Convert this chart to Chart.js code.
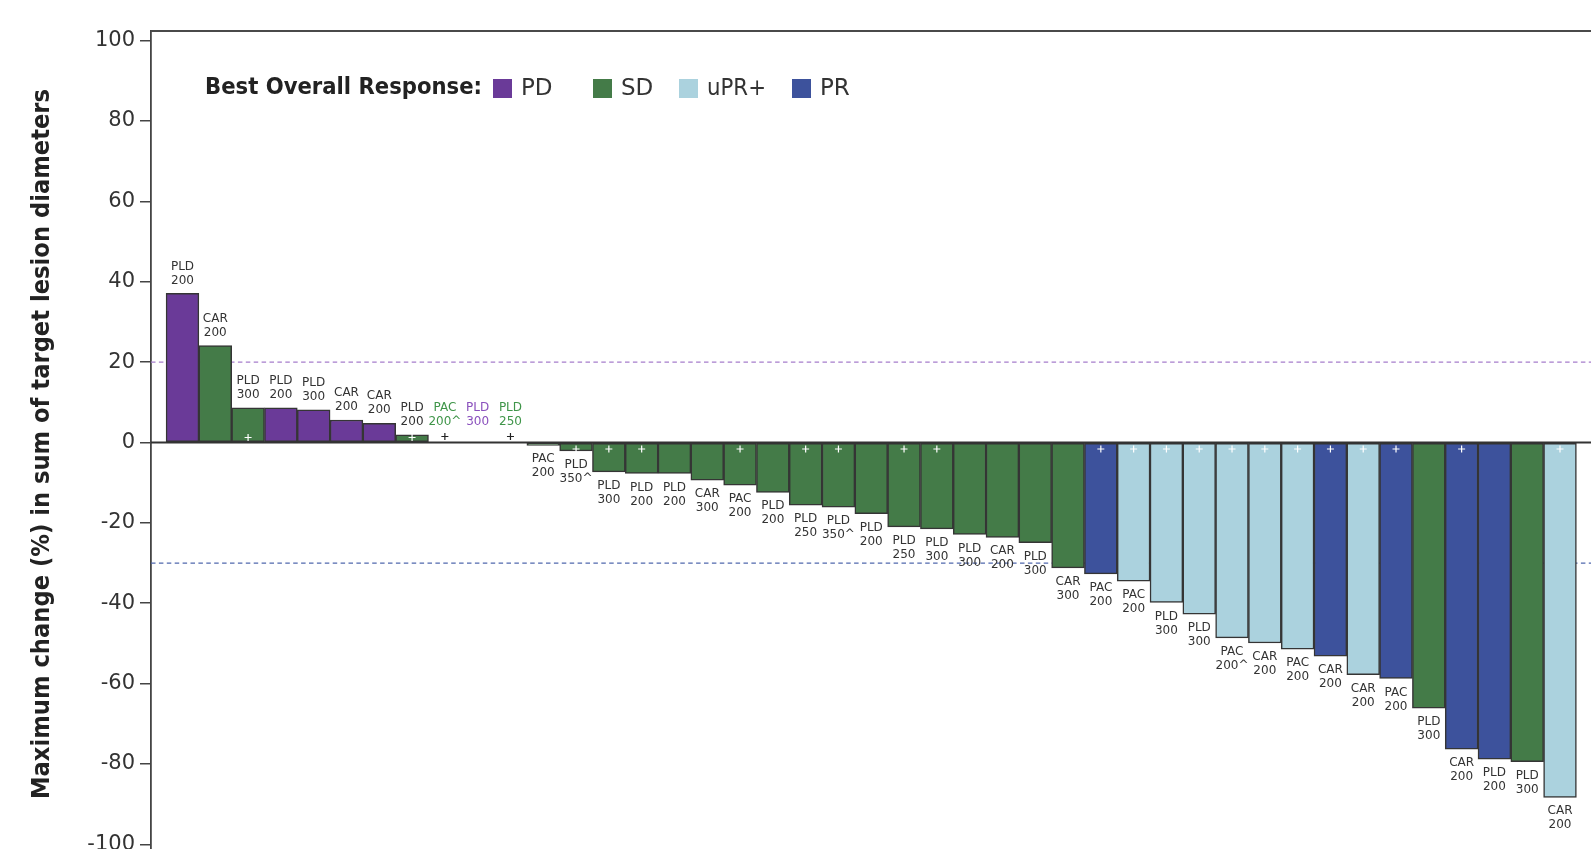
<!DOCTYPE html>
<html>
<head>
<meta charset="utf-8">
<title>Best overall response waterfall</title>
<script src="https://cdn.jsdelivr.net/npm/chart.js@4.4.1/dist/chart.umd.min.js"></script>
<style>
  html, body { margin: 0; padding: 0; background: #fff; overflow: hidden; }
  #wrap { width: 1591px; height: 849px; overflow: hidden; }
</style>
</head>
<body>
<div id="wrap"><canvas id="waterfall" width="1642" height="854"></canvas></div>
<script>
// waterfall data, one entry per patient (left to right)
const values = [37.1, 24.1, 8.6, 8.6, 8.1, 5.6, 4.8, 1.9, 0, 0, 0, -0.7, -2.1, -7.3, -7.7,
  -7.7, -9.4, -10.6, -12.4, -15.6, -16.1, -17.7, -21.0, -21.5, -22.9, -23.6, -24.9, -31.2,
  -32.7, -34.5, -39.8, -42.7, -48.6, -49.9, -51.4, -53.2, -57.8, -58.7, -66.1, -76.3,
  -78.8, -79.4, -88.3];
const responses = ["PD", "SD", "SD", "PD", "PD", "PD", "PD", "SD", "SD", "PD", "SD",
  "SD", "SD", "SD", "SD", "SD", "SD", "SD", "SD", "SD", "SD", "SD", "SD", "SD", "SD", "SD",
  "SD", "SD", "PR", "uPR+", "uPR+", "uPR+", "uPR+", "uPR+", "uPR+", "PR", "uPR+", "PR",
  "SD", "PR", "PR", "SD", "uPR+"];
const drugs = ["PLD", "CAR", "PLD", "PLD", "PLD", "CAR", "CAR", "PLD", "PAC", "PLD", "PLD",
  "PAC", "PLD", "PLD", "PLD", "PLD", "CAR", "PAC", "PLD", "PLD", "PLD", "PLD", "PLD", "PLD",
  "PLD", "CAR", "PLD", "CAR", "PAC", "PAC", "PLD", "PLD", "PAC", "CAR", "PAC", "CAR", "CAR",
  "PAC", "PLD", "CAR", "PLD", "PLD", "CAR"];
const doses = ["200", "200", "300", "200", "300", "200", "200", "200", "200^", "300", "250",
  "200", "350^", "300", "200", "200", "300", "200", "200", "250", "350^", "200", "250", "300",
  "300", "200", "300", "300", "200", "200", "300", "300", "200^", "200", "200", "200", "200",
  "200", "300", "200", "200", "300", "200"];
const ongoing = [0, 0, 1, 0, 0, 0, 0, 1, 1, 0, 1, 0, 1, 1, 1, 0, 0, 1, 0, 1, 1, 0, 1, 1, 0, 0,
  0, 0, 1, 1, 1, 1, 1, 1, 1, 1, 1, 1, 0, 1, 0, 0, 1];
const yTicks = [100, 80, 60, 40, 20, 0, -20, -40, -60, -80, -100];
const refLines = [20, -30];
const legendItems = ["PD", "SD", "uPR+", "PR"];

const responseColors = { PD: "#6a3a98", SD: "#447b48", "uPR+": "#abd2de", PR: "#3d529c" };
const zeroLabelColors = { PD: "#8a50bd", SD: "#3f9549" };
const refColors = ["#a67dcc", "#5068ad"];

const points = values.map((v, i) => ({ x: i + 1, y: v }));

// frame, reference lines, labels, legend
const waterfallDecor = {
  id: "waterfallDecor",
  beforeDatasetsDraw(chart) {
    const { ctx, chartArea, scales } = chart;
    ctx.save();
    ctx.lineWidth = 1.3;
    ctx.setLineDash([4.5, 3.4]);
    refLines.forEach((v, i) => {
      const y = scales.y.getPixelForValue(v);
      ctx.strokeStyle = refColors[i];
      ctx.beginPath();
      ctx.moveTo(chartArea.left, y);
      ctx.lineTo(chartArea.right, y);
      ctx.stroke();
    });
    ctx.setLineDash([]);
    ctx.strokeStyle = "#4a4a4a";
    ctx.lineWidth = 1.8;
    ctx.beginPath();
    ctx.moveTo(chartArea.left, chartArea.top);
    ctx.lineTo(chartArea.right, chartArea.top);
    ctx.stroke();
    ctx.restore();
  },
  afterDatasetsDraw(chart) {
    const { ctx, chartArea, scales } = chart;
    const zeroY = scales.y.getPixelForValue(0);
    ctx.save();
    ctx.strokeStyle = "#333";
    ctx.lineWidth = 2;
    ctx.beginPath();
    ctx.moveTo(chartArea.left, zeroY);
    ctx.lineTo(chartArea.right, zeroY);
    ctx.stroke();

    const bars = chart.getDatasetMeta(0).data;
    ctx.font = '12px "DejaVu Sans"';
    ctx.textAlign = "center";
    ctx.textBaseline = "middle";
    bars.forEach((bar, i) => {
      const v = values[i];
      const x = bar.x;
      ctx.fillStyle = v === 0 ? zeroLabelColors[responses[i]] : "#333";
      if (v >= 0) {
        const anchor = Math.min(bar.y, zeroY - 8);
        ctx.fillText(drugs[i], x, anchor - 27);
        ctx.fillText(doses[i], x, anchor - 13);
      } else {
        ctx.fillText(drugs[i], x, bar.y + 14);
        ctx.fillText(doses[i], x, bar.y + 28);
      }
      if (ongoing[i]) {
        let py;
        if (v === 0) { ctx.strokeStyle = "#222"; py = zeroY - 6; }
        else if (v > 0) { ctx.strokeStyle = "#fff"; py = zeroY - 5; }
        else { ctx.strokeStyle = "#fff"; py = zeroY + 6.5; }
        ctx.lineWidth = 1.2;
        ctx.beginPath();
        ctx.moveTo(x - 3.5, py);
        ctx.lineTo(x + 3.5, py);
        ctx.moveTo(x, py - 3.5);
        ctx.lineTo(x, py + 3.5);
        ctx.stroke();
      }
    });
    ctx.restore();
  },
  afterDraw(chart) {
    const { ctx } = chart;
    ctx.save();
    // y axis title
    ctx.translate(43, 444);
    ctx.rotate(-Math.PI / 2);
    ctx.font = 'bold 24px "DejaVu Sans"';
    ctx.fillStyle = "#222";
    ctx.textAlign = "center";
    ctx.textBaseline = "middle";
    ctx.fillText("Maximum change (%) in sum of target lesion diameters", 0, 0, 710);
    ctx.restore();

    // legend
    ctx.save();
    ctx.textBaseline = "middle";
    ctx.textAlign = "left";
    ctx.fillStyle = "#222";
    ctx.font = 'bold 23px "DejaVu Sans"';
    ctx.fillText("Best Overall Response:", 205, 88, 277);
    const boxX = [493, 593, 679, 792];
    const textW = [34, 34, 59, 30];
    legendItems.forEach((r, i) => {
      ctx.fillStyle = responseColors[r];
      ctx.fillRect(boxX[i], 79, 19, 19);
      ctx.fillStyle = "#333";
      ctx.font = '23px "DejaVu Sans"';
      ctx.fillText(r, boxX[i] + 28, 89, textW[i]);
    });
    ctx.restore();
  }
};

new Chart(document.getElementById("waterfall"), {
  type: "bar",
  data: {
    datasets: [
      {
        data: points,
        backgroundColor: responses.map((r) => responseColors[r]),
        borderColor: "#353535",
        borderWidth: values.map((v) => (v === 0 ? 0 : 1.5)),
        borderSkipped: false,
        barPercentage: 1,
        categoryPercentage: 1,
      },
    ],
  },
  options: {
    responsive: false,
    animation: false,
    layout: { padding: { top: 31, left: 0, right: 0, bottom: 0 } },
    plugins: {
      legend: { display: false },
      tooltip: { enabled: false },
    },
    scales: {
      x: {
        type: "linear",
        min: 0.04,
        max: 45.5,
        offset: false,
        display: false,
      },
      y: {
        min: -102.4,
        max: 102.4,
        afterBuildTicks: (scale) => {
          scale.ticks = yTicks.map((v) => ({ value: v }));
        },
        afterFit: (scale) => {
          scale.width = 151;
          scale.paddingTop = 0;
          scale.paddingBottom = 0;
        },
        grid: {
          display: true,
          drawOnChartArea: false,
          drawTicks: true,
          tickLength: 11,
          color: "#444",
          lineWidth: 1.5,
        },
        border: { display: true, color: "#444", width: 1.8 },
        ticks: {
          padding: 5,
          color: "#333",
          font: { family: "DejaVu Sans", size: 21 },
        },
      },
    },
  },
  plugins: [waterfallDecor],
});
</script>
</body>
</html>
